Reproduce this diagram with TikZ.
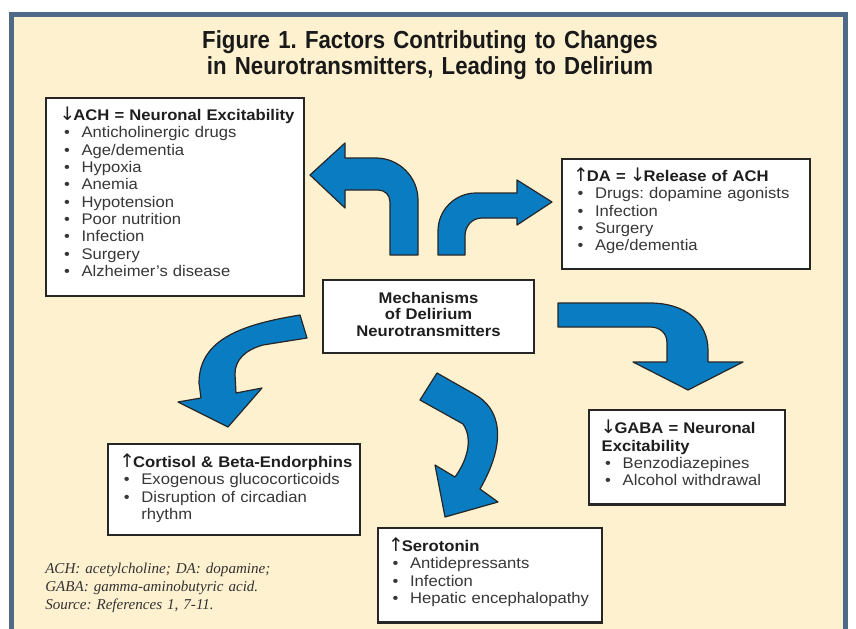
\documentclass[tikz,border=0pt]{standalone}
\usepackage{fontspec}
\setmainfont{Liberation Sans}
\newfontfamily\boxfont{Liberation Sans}[FakeStretch=1.08]
\newfontfamily\titlefont{Liberation Sans}[FakeStretch=0.9]
\newfontfamily\notefont{Liberation Serif}
\newfontfamily\arrowfont{DejaVu Sans}
\frenchspacing

\definecolor{framecol}{RGB}{78,106,135}
\definecolor{paper}{RGB}{254,241,208}
\definecolor{arrowblue}{RGB}{10,124,193}
\definecolor{itemgray}{RGB}{55,55,55}
\definecolor{headink}{RGB}{30,30,30}

% heading and bullet lines inside the boxes
\newcommand{\incr}{\makebox[9.6pt][l]{\hspace{-0.8pt}\arrowfont\mdseries\fontsize{14pt}{13pt}\selectfont ↑}}
\newcommand{\decr}{\makebox[9.6pt][l]{\hspace{-0.8pt}\arrowfont\mdseries\fontsize{14pt}{13pt}\selectfont ↓}}
\newcommand{\hd}[1]{\mbox{\color{headink}\bfseries #1}}
\newcommand{\bul}[1]{\\\makebox[15.75pt][l]{\hspace{2.6pt}\textbullet}\mbox{#1}}

\tikzset{
  factorbox/.style={draw=black!85, line width=1.6pt, fill=white, anchor=north west,
    align=left, inner ysep=0pt, text=itemgray,
    font=\boxfont\fontsize{11.55pt}{13pt}\selectfont},
  hubbox/.style={factorbox, align=center, inner xsep=7.5pt, text=headink,
    font=\boxfont\bfseries\fontsize{11.55pt}{12.5pt}\selectfont},
  blockarrow/.style={fill=arrowblue, draw=black!85, line width=0.9pt, line join=round},
  titletext/.style={anchor=base, align=center, inner sep=0pt, text width=400pt, text=black!90,
    font=\titlefont\bfseries\fontsize{18.5pt}{19.5pt}\selectfont},
  notetext/.style={anchor=base west, align=left, inner sep=0pt, text width=250pt, text=black!80,
    font=\notefont\itshape\fontsize{11.3pt}{13.5pt}\selectfont}
}

\begin{document}
\begin{tikzpicture}[x=0.75pt, y=-0.75pt]
  \useasboundingbox (0,0) rectangle (856,628);
  \clip (0,0) rectangle (856,628);
  % Frame
  \fill[white] (0,0) rectangle (856,628);
  \draw[line width=3.75pt, draw=framecol, fill=paper] (11,14.5) rectangle (845.5,660);
  % Title
  \node[titletext] (title) at (430,48) {Figure 1. Factors Contributing to Changes\\in Neurotransmitters, Leading to Delirium};
  % Centre box
  \node[hubbox, text width=143.25pt, text height=17.25pt, text depth=37.5pt] (hub) at (322,279)
    {Mechanisms\\of Delirium\\Neurotransmitters};
  % Factor boxes
  \node[factorbox, inner xsep=10.9pt, text width=171.75pt, text height=16.7pt, text depth=131.8pt] (ach) at (45,97)
    {\hd{\decr ACH = Neuronal Excitability}\bul{Anticholinergic drugs}\bul{Age/dementia}\bul{Hypoxia}\bul{Anemia}%
     \bul{Hypotension}\bul{Poor nutrition}\bul{Infection}\bul{Surgery}\bul{Alzheimer’s disease}};
  \node[factorbox, inner xsep=9.4pt, text width=167.2pt, text height=17.25pt, text depth=65.6pt] (da) at (560.5,157.5)
    {\hd{\incr DA = \decr Release of ACH}\bul{Drugs: dopamine agonists}\bul{Infection}\bul{Surgery}\bul{Age/dementia}};
  \node[factorbox, inner xsep=9.5pt, text width=128pt, text height=18.2pt, text depth=53pt] (gaba) at (588,408.5)
    {\hd{\decr GABA = Neuronal}\\\hd{Excitability}\bul{Benzodiazepines}\bul{Alcohol withdrawal}};
  \node[factorbox, inner xsep=9.6pt, text width=170.2pt, text height=18pt, text depth=50.6pt] (cortisol) at (106.5,442.5)
    {\hd{\incr Cortisol \& Beta-Endorphins}\bul{Exogenous glucocorticoids}\bul{Disruption of circadian}\\\hspace*{15.75pt}rhythm};
  \node[factorbox, inner xsep=8.25pt, text width=151.5pt, text height=17.6pt, text depth=53.25pt] (serotonin) at (377,527)
    {\hd{\incr Serotonin}\bul{Antidepressants}\bul{Infection}\bul{Hepatic encephalopathy}};
  % Arrows
  \filldraw[blockarrow] (390,255) -- (418,255) -- (418,200) .. controls (418,177) and (399,158) .. (376,158)
    -- (345,158) -- (345,143) -- (310,175) -- (345,208) -- (345,190) -- (378,190)
    .. controls (385,190) and (390,195) .. (390,202) -- cycle;
  \filldraw[blockarrow] (438,255) -- (438,231) .. controls (438,210) and (455,193) .. (476,193)
    -- (517,193) -- (517,180) -- (552,202) -- (517,225) -- (517,218) -- (482,218)
    .. controls (472,218) and (465,226) .. (465,236) -- (465,255) -- cycle;
  \filldraw[blockarrow] (300,315) .. controls (245,324) and (199,338) .. (199,383) -- (201,398)
    -- (178,402) -- (228,427) -- (262,388) -- (236,393) -- (235,374)
    .. controls (235,360) and (245,350) .. (263,345) -- (307,338) -- cycle;
  \filldraw[blockarrow] (437,373) -- (474,394) .. controls (500,408) and (508,440) .. (480,489)
    -- (498,502) -- (445,517) -- (435,465) -- (455,477)
    .. controls (466,462) and (474,440) .. (463,424) -- (420,400) -- cycle;
  \filldraw[blockarrow] (558,303) -- (650,303) .. controls (685,303) and (708,322) .. (708,350)
    -- (708,362) -- (743,362) -- (688,390) -- (633,362) -- (667,362) -- (667,343)
    .. controls (667,333) and (660,327) .. (650,327) -- (558,327) -- cycle;
  % Footnote
  \node[notetext] (note) at (45,573.5)
    {ACH: acetylcholine; DA: dopamine;\\GABA: gamma-aminobutyric acid.\\Source: References 1, 7-11.};
\end{tikzpicture}
\end{document}
